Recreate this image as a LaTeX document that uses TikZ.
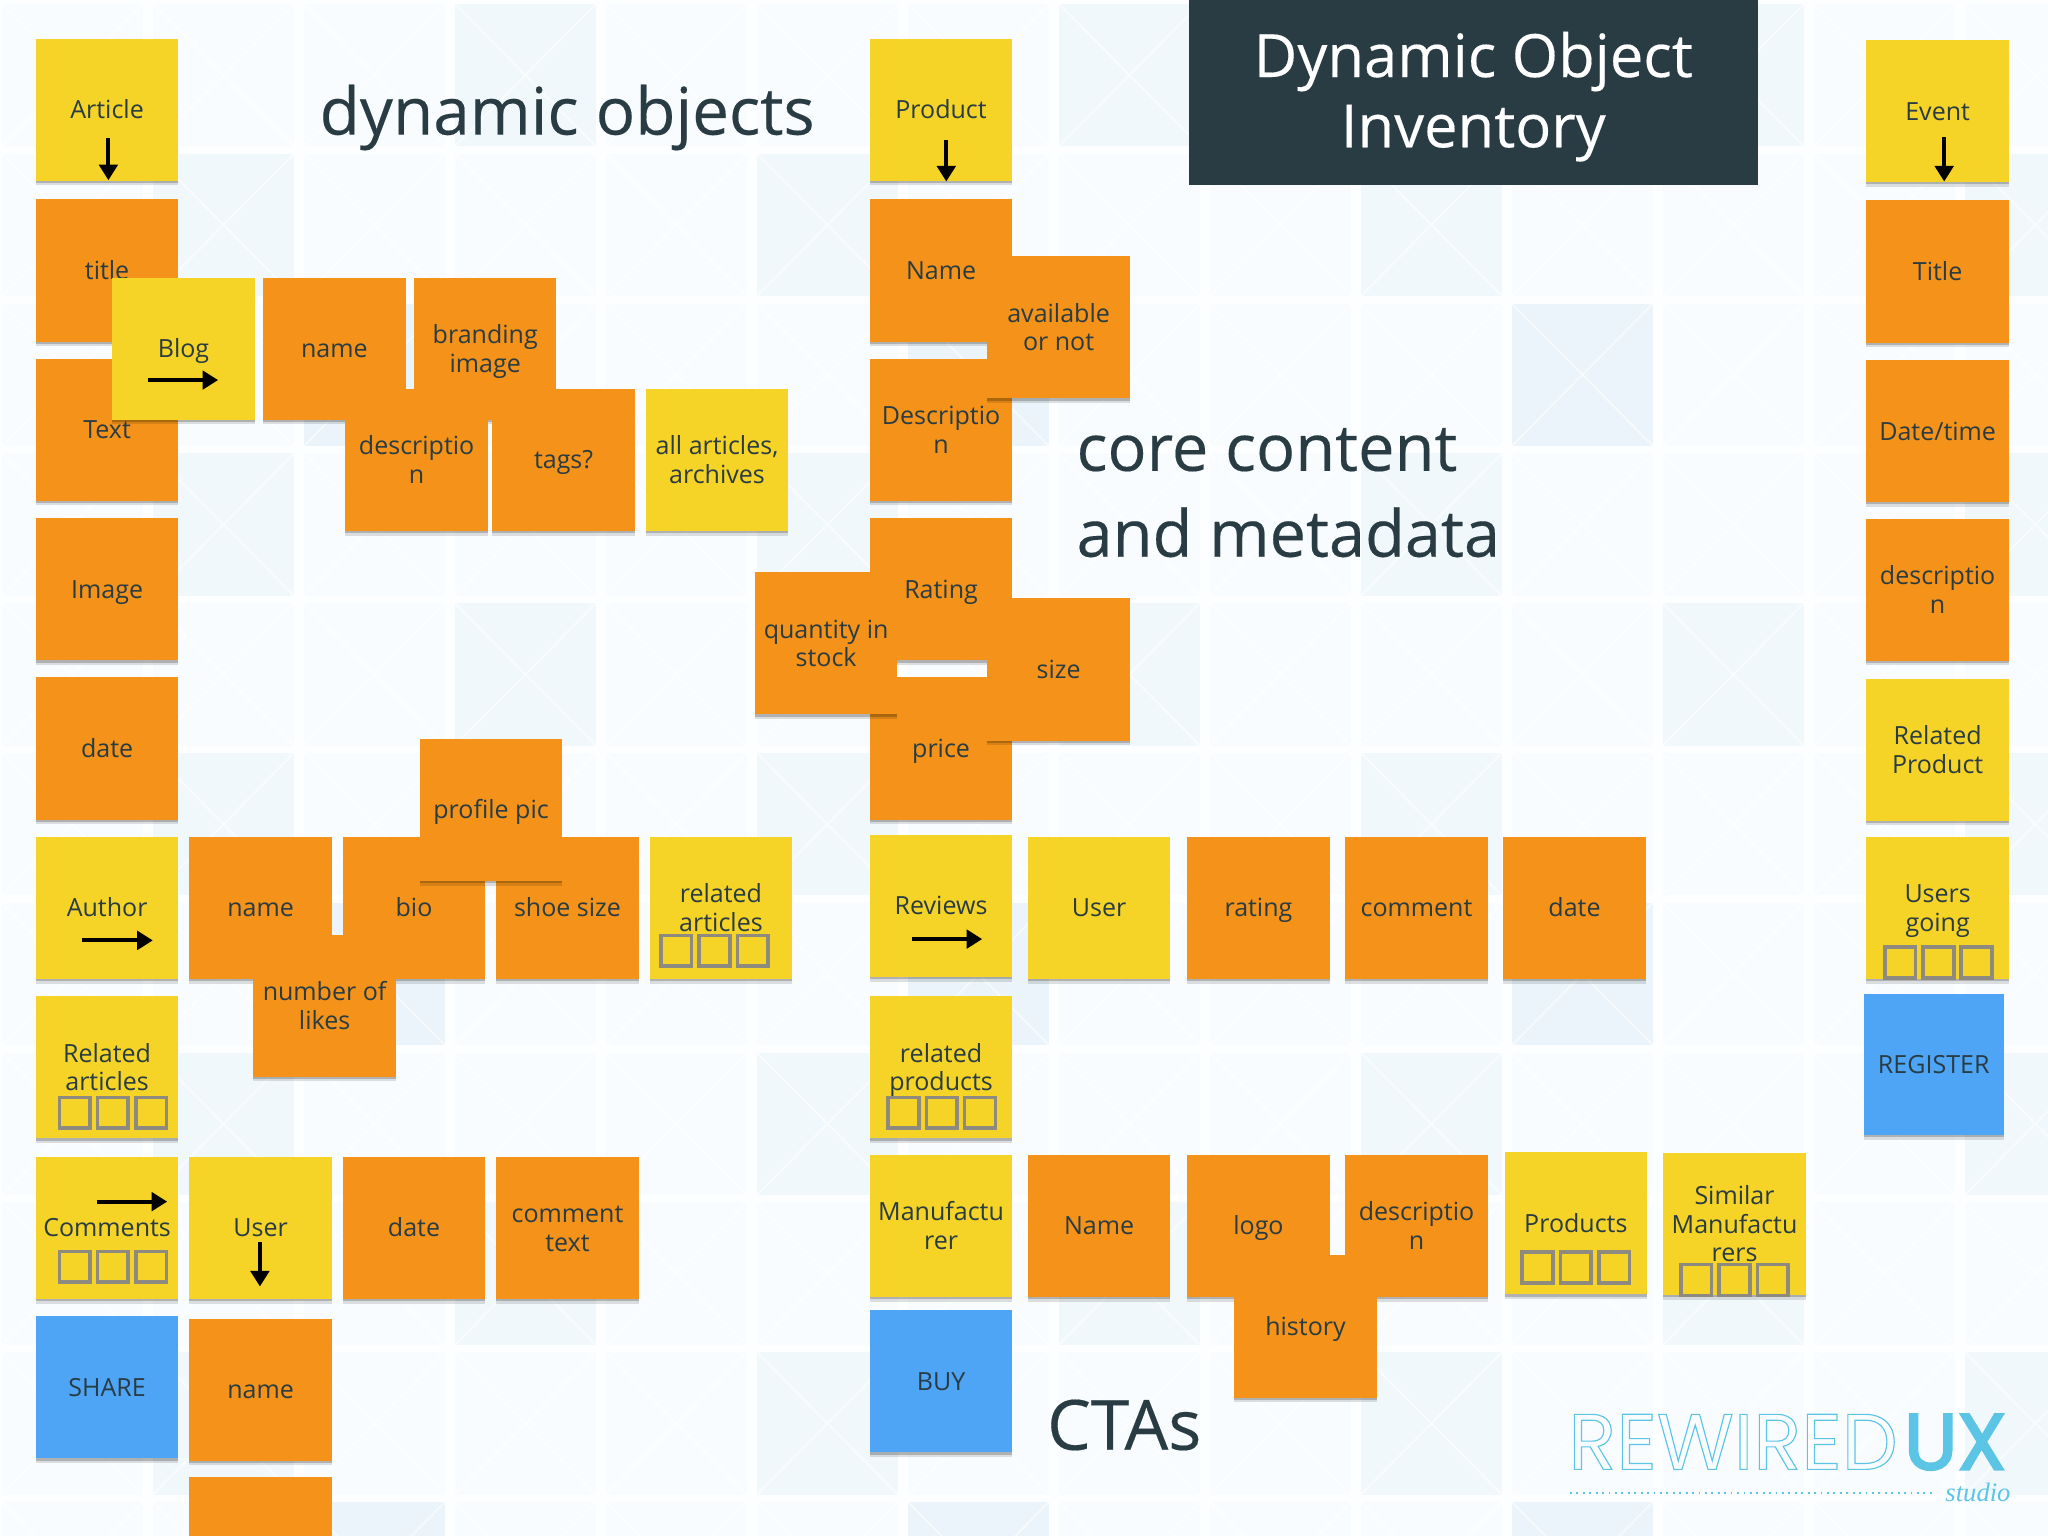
\documentclass[tikz,border=0pt]{standalone}
\usepackage{fontspec}
\setmainfont{Open Sans}
\newfontfamily\headfont[FakeBold=0.25]{Open Sans}
\newfontfamily\logofont{Poppins}
\newfontfamily\studiofont{Liberation Serif}
\usetikzlibrary{arrows.meta, shadows}
\definecolor{noteyellow}{HTML}{F5D327}
\definecolor{noteorange}{HTML}{F49219}
\definecolor{noteblue}{HTML}{4FA5F5}
\definecolor{slateink}{HTML}{293C43}
\definecolor{slotgray}{HTML}{8F8A80}
\definecolor{tilefaint}{HTML}{F9FCFE}
\definecolor{tilesoft}{HTML}{F1F8FC}
\definecolor{tilestrong}{HTML}{EAF4FA}
\definecolor{logoblue}{HTML}{5BC5E5}

% three empty slots inside a note
\newcommand{\slotrow}[3]{%
  \foreach \n in {-1,0,1}
    \node[slot] (#1 slot \n) at ([shift={(#2+\n*0.293,#3)}]#1.center) {};
}
% one background tile with its crossing
\newcommand{\bgtile}[3]{%
  \fill[#3] (#1*1.156+0.015,#2*1.147+0.03) rectangle ++(1.08,1.09);
  \draw[white, opacity=0.6, line width=0.4pt] (#1*1.156+0.015,#2*1.147+0.03) -- ++(1.08,1.09) ++(-1.08,0) -- ++(1.08,-1.09);
}

\begin{document}
\begin{tikzpicture}[x=1cm, y=-1cm]
% Define styles
\tikzset{
  sticky/.style={minimum size=1.09cm, inner sep=0pt, align=center, text=slateink,
    font=\fontsize{5.45}{6.2}\selectfont, text height=7pt, text depth=3pt,
    drop shadow={shadow xshift=0pt, shadow yshift=-1pt, opacity=0.12, fill=black},
    drop shadow={shadow xshift=0pt, shadow yshift=-0.5pt, opacity=0.2, fill=black}},
  two lines/.style={text height=13.2pt},
  three lines/.style={text height=19.4pt},
  yellow note/.style={sticky, fill=noteyellow},
  orange note/.style={sticky, fill=noteorange},
  blue note/.style={sticky, fill=noteblue},
  slot/.style={draw=slotgray, line width=0.8pt, minimum size=0.235cm, inner sep=0pt},
  pointer/.style={-{Triangle[length=3.4pt, width=4pt]}, line width=0.9pt, black},
  heading/.style={text=slateink, align=left, inner sep=0pt, font=\headfont\fontsize{14.3}{18.7}\selectfont},
}
\useasboundingbox (0,0) rectangle (15.68,11.76);
\fill[white!70!tilefaint] (0,0) rectangle (15.68,11.76);

% Background tiles
\foreach \c in {0,...,13} \foreach \r in {0,...,10} {\bgtile{\c}{\r}{tilefaint}}
\foreach \c in {3,7,11} \foreach \r in {0,4,8} {\bgtile{\c}{\r}{tilesoft}}
\foreach \c in {1,5,9,13} \foreach \r in {1,3,5,7,9} {\bgtile{\c}{\r}{tilesoft}}
\foreach \c in {2,6,10} \foreach \r in {2,6,10} {\bgtile{\c}{\r}{tilestrong}}

% Title banner
\node[fill=slateink, minimum width=4.36cm, minimum height=1.42cm, inner sep=0pt] (banner) at (11.28,0.71) {};
\node[text=white, align=center, inner sep=0pt, font=\headfont\fontsize{13}{15.3}\selectfont] (bannertext) at (11.28,0.74) {Dynamic Object\\Inventory};

% Article column
\node[yellow note] (article) at (0.82,0.84) {Article};
\node[orange note] (title) at (0.82,2.07) {title};
\node[orange note] (text) at (0.82,3.29) {Text};
\node[orange note] (image) at (0.82,4.51) {Image};
\node[orange note] (articledate) at (0.82,5.73) {date};
\node[yellow note] (author) at (0.82,6.95) {Author};
\node[yellow note, two lines] (relatedarticles) at (0.82,8.17) {Related\\articles};
\node[yellow note] (comments) at (0.82,9.40) {Comments};
\node[blue note] (share) at (0.82,10.62) {SHARE};

% Blog row
\node[yellow note] (blog) at (1.405,2.67) {Blog};
\node[orange note] (blogname) at (2.56,2.67) {name};
\node[orange note, two lines] (branding) at (3.715,2.67) {branding\\image};
\node[orange note, two lines] (blogdesc) at (3.19,3.52) {descriptio\\n};
\node[orange note] (tags) at (4.315,3.52) {tags?};
\node[yellow note, two lines] (archives) at (5.49,3.52) {all articles,\\archives};

% Author row
\node[orange note] (authorname) at (1.995,6.95) {name};
\node[orange note] (bio) at (3.17,6.95) {bio};
\node[orange note] (shoesize) at (4.345,6.95) {shoe size};
\node[yellow note, two lines] (authorarticles) at (5.52,6.95) {related\\articles};
\node[orange note] (profilepic) at (3.76,6.20) {profile pic};
\node[orange note, two lines] (likes) at (2.485,7.70) {number of\\likes};

% Comment row
\node[yellow note] (commentuser) at (1.995,9.40) {User};
\node[orange note] (commentdate) at (3.17,9.40) {date};
\node[orange note, two lines] (commenttext) at (4.345,9.40) {comment\\text};
\node[orange note] (username) at (1.995,10.64) {name};
\node[orange note] (userblank) at (1.995,11.85) {};

% Product column
\node[yellow note] (product) at (7.205,0.84) {Product};
\node[orange note] (productname) at (7.205,2.07) {Name};
\node[orange note, two lines] (productdesc) at (7.205,3.29) {Descriptio\\n};
\node[orange note] (rating) at (7.205,4.51) {Rating};
\node[orange note] (price) at (7.205,5.73) {price};
\node[orange note, two lines] (available) at (8.105,2.505) {available\\or not};
\node[orange note, two lines] (quantity) at (6.325,4.925) {quantity in\\stock};
\node[orange note] (size) at (8.105,5.125) {size};

% Reviews row
\node[yellow note] (reviews) at (7.205,6.935) {Reviews};
\node[yellow note] (reviewuser) at (8.415,6.95) {User};
\node[orange note] (reviewrating) at (9.635,6.95) {rating};
\node[orange note] (reviewcomment) at (10.845,6.95) {comment};
\node[orange note] (reviewdate) at (12.055,6.95) {date};
\node[yellow note, two lines] (relatedproducts) at (7.205,8.17) {related\\products};

% Manufacturer row
\node[yellow note, two lines] (maker) at (7.205,9.385) {Manufactu\\rer};
\node[orange note] (makername) at (8.415,9.385) {Name};
\node[orange note] (makerlogo) at (9.635,9.385) {logo};
\node[orange note, two lines] (makerdesc) at (10.845,9.385) {descriptio\\n};
\node[yellow note] (makerproducts) at (12.065,9.365) {Products};
\node[yellow note, three lines] (similar) at (13.28,9.37) {Similar\\Manufactu\\rers};
\node[orange note] (history) at (9.995,10.155) {history};
\node[blue note] (buy) at (7.205,10.575) {BUY};

% Event column
\node[yellow note] (event) at (14.835,0.85) {Event};
\node[orange note] (eventtitle) at (14.835,2.08) {Title};
\node[orange note] (datetime) at (14.835,3.30) {Date/time};
\node[orange note, two lines] (eventdesc) at (14.835,4.515) {descriptio\\n};
\node[yellow note, two lines] (eventproduct) at (14.835,5.74) {Related\\Product};
\node[yellow note, two lines] (usersgoing) at (14.835,6.95) {Users\\going};
\node[blue note, minimum width=1.07cm, minimum height=1.08cm] (register) at (14.805,8.15) {REGISTER};

% Empty slots
\slotrow{relatedarticles}{0.045}{0.35}
\slotrow{authorarticles}{-0.05}{0.33}
\slotrow{comments}{0.045}{0.30}
\slotrow{relatedproducts}{0.005}{0.35}
\slotrow{makerproducts}{0}{0.34}
\slotrow{similar}{0}{0.43}
\slotrow{usersgoing}{0.005}{0.42}

% Arrows on notes
\draw[pointer] ([shift={(0.01,0.22)}]article.center) -- ++(0,0.32);
\draw[pointer] ([shift={(-0.275,0.24)}]blog.center) -- ++(0.54,0);
\draw[pointer] ([shift={(-0.19,0.25)}]author.center) -- ++(0.54,0);
\draw[pointer] ([shift={(-0.08,-0.20)}]comments.center) -- ++(0.54,0);
\draw[pointer] ([shift={(-0.005,0.11)}]commentuser.center) -- ++(0,0.34);
\draw[pointer] ([shift={(0.04,0.23)}]product.center) -- ++(0,0.32);
\draw[pointer] ([shift={(-0.225,0.255)}]reviews.center) -- ++(0.54,0);
\draw[pointer] ([shift={(0.05,0.20)}]event.center) -- ++(0,0.34);

% Headings
\node[heading, anchor=west] (dynamic) at (2.44,0.90) {dynamic objects};
\node[heading, anchor=north west, font=\headfont\fontsize{14.15}{18.7}\selectfont] (core) at (8.235,3.27) {core content\\and metadata};
\node[heading, anchor=west, font=\headfont\fontsize{15.1}{18}\selectfont] (ctas) at (8.01,10.91) {CTAs};

% Logo
\node[inner sep=0pt, anchor=base west, font=\logofont\fontsize{17.2}{17}\selectfont] (rewired) at (12.00,11.25)
  {\special{pdf:code q 1 Tr 0.25 w 0.36 0.77 0.90 RG}REWIRED\special{pdf:code Q}};
\node[inner sep=0pt, anchor=base west, xshift=1pt, text=logoblue, font=\logofont\fontsize{17.2}{17}\selectfont] (ux) at (rewired.base east)
  {\special{pdf:code q 2 Tr 0.5 w 0.36 0.77 0.90 RG}UX\special{pdf:code Q}};
\node[inner sep=0pt, anchor=east, text=logoblue, font=\studiofont\fontsize{5.8}{6}\itshape] (studio) at (15.40,11.43) {studio};
\coordinate (rule start) at (12.02,11.43);
\coordinate (rule end) at (14.82,11.43);
\draw[logoblue, densely dotted, line width=0.4pt] (rule start) -- (rule end);

\end{tikzpicture}
\end{document}
